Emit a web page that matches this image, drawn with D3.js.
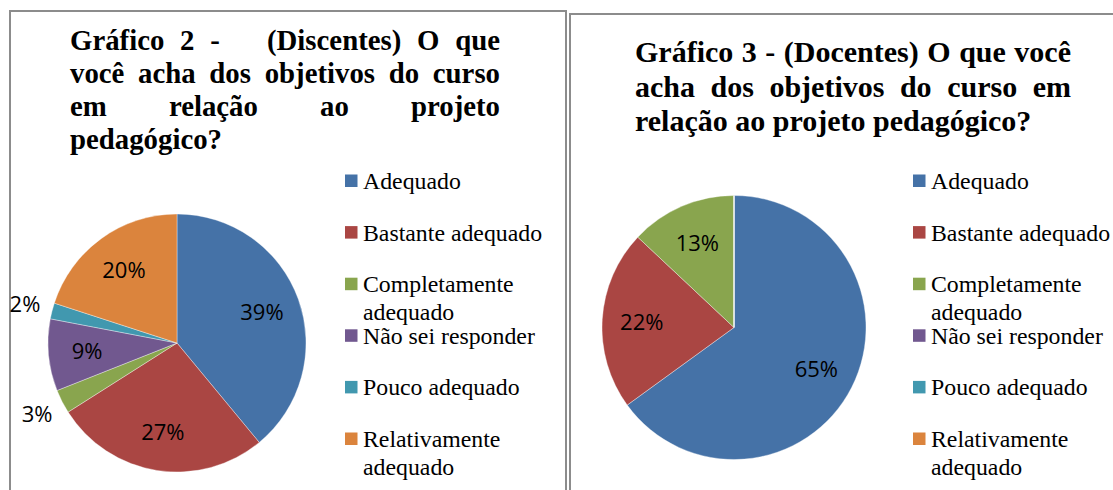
<!DOCTYPE html>
<html>
<head>
<meta charset="utf-8">
<script src="https://cdn.jsdelivr.net/npm/d3@7"></script>
<style>
  body { margin: 0; background: #fff; }
  svg { display: block; }
</style>
</head>
<body>
<div id="chart"></div>
<script>
// data
const categories = ["Adequado", "Bastante adequado", "Completamente adequado",
    "Não sei responder", "Pouco adequado", "Relativamente adequado"];
const discentes = [39, 27, 3, 9, 2, 20];
const docentes = [65, 22, 13, 0, 0, 0];
const colors = ["#4572A7", "#AA4643", "#89A54E", "#71588F", "#4198AF", "#DB843D"];
const title2 = ["Gráfico 2 -   (Discentes) O que", "você acha dos objetivos do curso",
    "em relação ao projeto", "pedagógico?"];
const title3 = ["Gráfico 3 - (Docentes) O que você", "acha dos objetivos do curso em",
    "relação ao projeto pedagógico?"];

let w = 1113;
let h = 490;

let svg = d3.select("#chart")
    .append("svg")
    .attr("width", w)
    .attr("height", h)
    .style("background-color", "#fff");

const color = d3.scaleOrdinal().domain(categories).range(colors);

// justified title, last line left aligned
function drawTitle(g, lines, x, y, width, size, lead) {
    lines.forEach((line, li) => {
        const words = line.split(" ");
        const nodes = words.map(wd => g.append("text")
            .attr("y", y + li * lead)
            .style("font-family", "'Liberation Serif', 'Times New Roman', serif")
            .style("font-weight", "bold")
            .style("font-size", size + "px")
            .attr("fill", "#000")
            .text(wd));
        const widths = nodes.map(n => n.node().getComputedTextLength());
        const space = size * 0.25;
        const last = li === lines.length - 1;
        const gap = last ? space : (width - d3.sum(widths)) / (words.length - 1);
        let cx = x;
        nodes.forEach((n, i) => {
            n.attr("x", cx);
            cx += widths[i] + gap;
        });
    });
}

function drawLegend(g, x, y, maxW) {
    const step = 51.6;
    const lineH = 27.5;
    const fs = 23.8;
    categories.forEach((c, i) => {
        const cy = y + i * step;
        g.append("rect")
            .attr("x", x)
            .attr("y", cy - 6.5)
            .attr("width", 12.5)
            .attr("height", 12.5)
            .attr("fill", color(c));
        const t = g.append("text")
            .attr("x", x + 18)
            .attr("y", cy + 8)
            .style("font-family", "'Liberation Serif', 'Times New Roman', serif")
            .style("font-size", fs + "px")
            .attr("fill", "#000");
        // wrap words if too long
        const words = c.split(" ");
        let lines = [];
        let cur = "";
        words.forEach(wd => {
            const test = cur ? cur + " " + wd : wd;
            t.text(test);
            if (cur && t.node().getComputedTextLength() > maxW) {
                lines.push(cur);
                cur = wd;
            } else {
                cur = test;
            }
        });
        lines.push(cur);
        t.text(null);
        lines.forEach((l, li) => {
            t.append("tspan")
                .attr("x", x + 18)
                .attr("y", cy + 8 + li * lineH)
                .text(l);
        });
    });
}

function drawPie(g, values, cx, cy, r) {
    const pie = d3.pie().sort(null).value(d => d);
    const arcs = pie(values);
    const arc = d3.arc().innerRadius(0).outerRadius(r);
    const pg = g.append("g").attr("transform", `translate(${cx},${cy})`);

    pg.selectAll("path")
        .data(arcs)
        .enter()
        .append("path")
        .attr("d", arc)
        .attr("fill", (d, i) => colors[i])
        .attr("stroke", "#fff")
        .attr("stroke-opacity", 0.6)
        .attr("stroke-width", 0.6);

    const inner = d3.arc().innerRadius(r * 0.7).outerRadius(r * 0.7);
    const outer = d3.arc().innerRadius(r + 28).outerRadius(r + 28);

    pg.selectAll("text")
        .data(arcs.filter(d => d.data > 0))
        .enter()
        .append("text")
        .attr("transform", d => `translate(${(d.data < 5 ? outer : inner).centroid(d)})`)
        .attr("text-anchor", "middle")
        .attr("dy", "0.36em")
        .style("font-family", "'Open Sans', 'Noto Sans', sans-serif")
        .style("font-size", "22px")
        .attr("fill", "#000")
        .text(d => d.data + "%");
}

// left panel - discentes
let left = svg.append("g");
left.append("rect")
    .attr("x", 10).attr("y", 11)
    .attr("width", 556).attr("height", 500)
    .attr("fill", "none")
    .attr("stroke", "#8c8c8c")
    .attr("stroke-width", 2);
drawTitle(left, title2, 70, 50, 430, 28.8, 33);
drawPie(left, discentes, 177, 343, 129);
drawLegend(left, 345, 181, 184);

// right panel - docentes
let right = svg.append("g");
right.append("rect")
    .attr("x", 570).attr("y", 14)
    .attr("width", 560).attr("height", 500)
    .attr("fill", "none")
    .attr("stroke", "#8c8c8c")
    .attr("stroke-width", 2);
drawTitle(right, title3, 635, 62, 436, 30, 34.5);
drawPie(right, docentes, 734, 327.5, 132);
drawLegend(right, 913, 181, 182);
</script>
</body>
</html>
